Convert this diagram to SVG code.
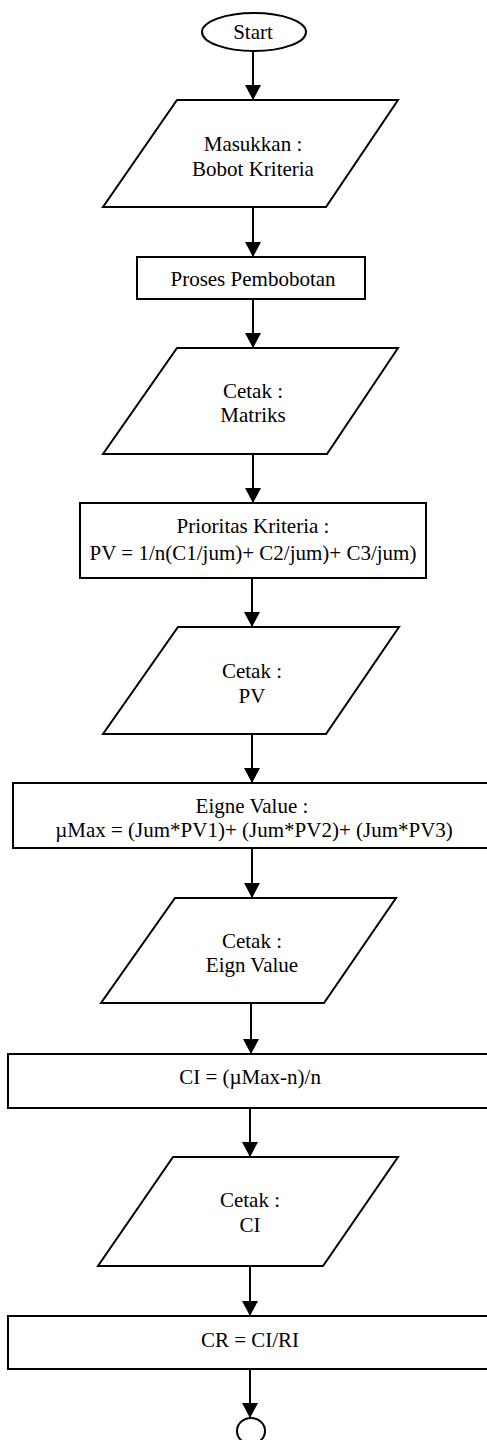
<svg xmlns="http://www.w3.org/2000/svg" width="487" height="1440" viewBox="0 0 487 1440">
<defs>
<style>
.s{fill:#fff;stroke:#000;stroke-width:2}
.t{font-family:"Liberation Serif","Times New Roman",serif;font-size:21px;fill:#000;text-anchor:middle}
.c{stroke:#000;stroke-width:2;fill:none}
</style>
<marker id="ah" markerUnits="userSpaceOnUse" markerWidth="16" markerHeight="16" viewBox="0 0 16 16" refX="15" refY="8" orient="auto">
<path d="M0,0 L15,8 L0,16 z" fill="#000"/>
</marker>
</defs>
<rect width="487" height="1440" fill="#fff"/>
<g id="connectors">
<line class="c" x1="253" y1="51" x2="253" y2="100" marker-end="url(#ah)"/>
<line class="c" x1="253" y1="207" x2="253" y2="257" marker-end="url(#ah)"/>
<line class="c" x1="253" y1="299" x2="253" y2="348" marker-end="url(#ah)"/>
<line class="c" x1="253" y1="454" x2="253" y2="503" marker-end="url(#ah)"/>
<line class="c" x1="252" y1="578" x2="252" y2="627" marker-end="url(#ah)"/>
<line class="c" x1="252" y1="734" x2="252" y2="783" marker-end="url(#ah)"/>
<line class="c" x1="252" y1="848" x2="252" y2="898" marker-end="url(#ah)"/>
<line class="c" x1="251" y1="1003" x2="251" y2="1054" marker-end="url(#ah)"/>
<line class="c" x1="250" y1="1108" x2="250" y2="1157" marker-end="url(#ah)"/>
<line class="c" x1="250" y1="1266" x2="250" y2="1316" marker-end="url(#ah)"/>
<line class="c" x1="250" y1="1369" x2="250" y2="1418" marker-end="url(#ah)"/>
</g>
<g id="start">
<ellipse class="s" cx="254" cy="32" rx="52" ry="19"/>
<text class="t" x="253" y="39">Start</text>
</g>
<g id="input-bobot">
<polygon class="s" points="177,100 398,100 326,207 103,207"/>
<text class="t" x="253" y="151">Masukkan :</text>
<text class="t" x="253" y="176">Bobot Kriteria</text>
</g>
<g id="proses-pembobotan">
<rect class="s" x="137" y="257" width="228" height="42"/>
<text class="t" x="253" y="286">Proses Pembobotan</text>
</g>
<g id="cetak-matriks">
<polygon class="s" points="177,348 398,348 327,454 103,454"/>
<text class="t" x="253" y="398">Cetak :</text>
<text class="t" x="253" y="422">Matriks</text>
</g>
<g id="prioritas-kriteria">
<rect class="s" x="80" y="503" width="346" height="75"/>
<text class="t" x="253" y="533">Prioritas Kriteria :</text>
<text class="t" x="253" y="560">PV = 1/n(C1/jum)+ C2/jum)+ C3/jum)</text>
</g>
<g id="cetak-pv">
<polygon class="s" points="178,627 399,627 326,734 103,734"/>
<text class="t" x="252" y="678">Cetak :</text>
<text class="t" x="252" y="703">PV</text>
</g>
<g id="eigne-value">
<path class="s" d="M490,783 L13,783 L13,848 L490,848"/>
<text class="t" x="252" y="813">Eigne Value :</text>
<text class="t" x="254" y="837">µMax = (Jum*PV1)+ (Jum*PV2)+ (Jum*PV3)</text>
</g>
<g id="cetak-eign">
<polygon class="s" points="175,898 396,898 324,1003 101,1003"/>
<text class="t" x="252" y="948">Cetak :</text>
<text class="t" x="252" y="972">Eign Value</text>
</g>
<g id="ci">
<path class="s" d="M490,1054 L8,1054 L8,1108 L490,1108"/>
<text class="t" x="250" y="1084">CI = (µMax-n)/n</text>
</g>
<g id="cetak-ci">
<polygon class="s" points="173,1157 398,1157 323,1266 98,1266"/>
<text class="t" x="250" y="1207">Cetak :</text>
<text class="t" x="250" y="1232">CI</text>
</g>
<g id="cr">
<path class="s" d="M490,1316 L8,1316 L8,1369 L490,1369"/>
<text class="t" x="250" y="1347">CR = CI/RI</text>
</g>
<g id="end">
<ellipse class="s" cx="251" cy="1431" rx="14" ry="13"/>
</g>
</svg>
